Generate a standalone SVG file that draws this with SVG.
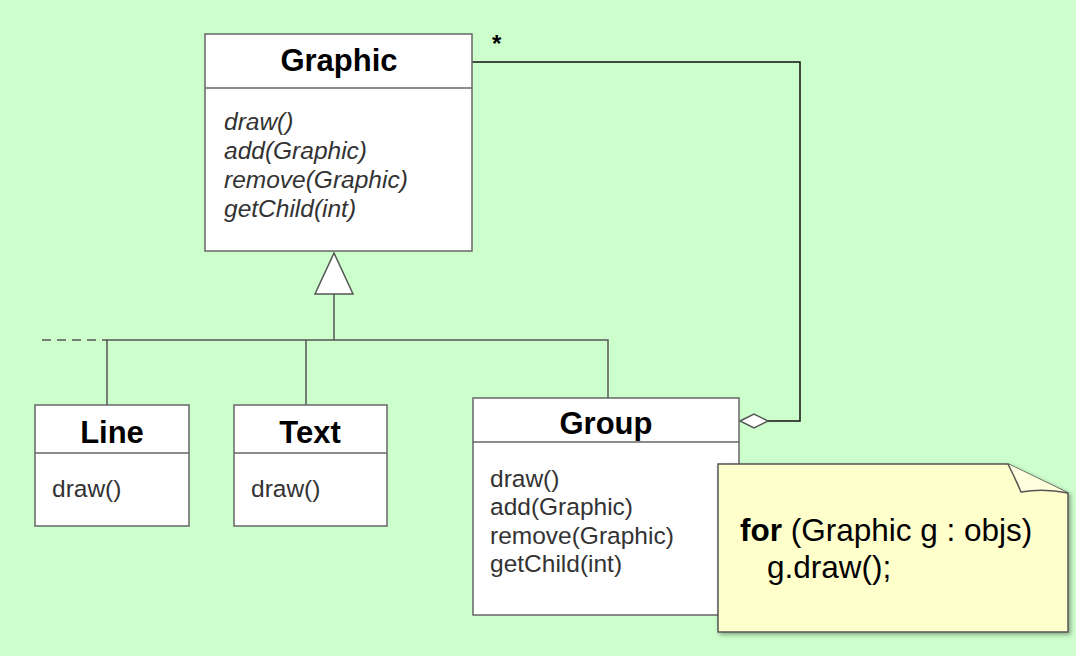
<svg xmlns="http://www.w3.org/2000/svg" width="1076" height="656" viewBox="0 0 1076 656">
<defs>
<style>
.box{fill:#fff;stroke:#666;stroke-width:1.5}
.div{stroke:#666;stroke-width:1.5}
.t{font-family:"Liberation Sans",Arial,sans-serif;fill:#000;font-weight:bold;text-anchor:middle;font-size:31px}
.m{font-family:"Liberation Sans",Arial,sans-serif;fill:#333;font-size:24.5px}
.mi{font-family:"Liberation Sans",Arial,sans-serif;fill:#333;font-size:24.5px;font-style:italic}
.ln{fill:none;stroke:#555;stroke-width:1.5}
.note{font-family:"Liberation Sans",Arial,sans-serif;fill:#000;font-size:31.5px}
</style>
<filter id="sh" x="-10%" y="-10%" width="130%" height="130%">
<feDropShadow dx="2" dy="2" stdDeviation="2" flood-color="#000" flood-opacity="0.35"/>
</filter>
</defs>
<rect width="1076" height="656" fill="#ccffcc"/>
<g id="connectors">
<polyline class="ln" points="107,405 107,340 608,340 608,398"/>
<line class="ln" x1="306" y1="340" x2="306" y2="405"/>
<line class="ln" x1="334" y1="294" x2="334" y2="340"/>
<line class="ln" x1="42" y1="340" x2="107" y2="340" stroke-dasharray="9,6"/>
<polygon points="334,253 315,294 353,294" fill="#fff" stroke="#555" stroke-width="1.5"/>
<polyline points="768,421 800,421 800,62 472,62" fill="none" stroke="#111" stroke-width="1.5"/>
<polygon points="740,421 754,414 768,421 754,428" fill="#fff" stroke="#555" stroke-width="1.5"/>
<text x="492" y="52" font-family="Liberation Sans,Arial,sans-serif" font-size="24" font-weight="bold">*</text>
<line x1="586" y1="479" x2="718" y2="500" stroke="#000" stroke-width="1.5" stroke-dasharray="6,5"/>
</g>
<g id="Graphic">
<rect class="box" x="205" y="34" width="267" height="217"/>
<line class="div" x1="205" y1="88" x2="472" y2="88"/>
<text class="t" x="339" y="71">Graphic</text>
<text class="mi" x="224" y="130">draw()</text>
<text class="mi" x="224" y="159">add(Graphic)</text>
<text class="mi" x="224" y="188">remove(Graphic)</text>
<text class="mi" x="224" y="217">getChild(int)</text>
</g>
<g id="Line">
<rect class="box" x="35" y="405" width="154" height="121"/>
<line class="div" x1="35" y1="453" x2="189" y2="453"/>
<text class="t" x="112" y="443">Line</text>
<text class="m" x="52" y="497">draw()</text>
</g>
<g id="Text">
<rect class="box" x="234" y="405" width="153" height="121"/>
<line class="div" x1="234" y1="453" x2="387" y2="453"/>
<text class="t" x="310" y="443">Text</text>
<text class="m" x="251" y="497">draw()</text>
</g>
<g id="Group">
<rect class="box" x="473" y="398" width="266" height="217"/>
<line class="div" x1="473" y1="442" x2="739" y2="442"/>
<text class="t" x="606" y="434">Group</text>
<text class="m" x="490" y="487">draw()</text>
<text class="m" x="490" y="515">add(Graphic)</text>
<text class="m" x="490" y="544">remove(Graphic)</text>
<text class="m" x="490" y="572">getChild(int)</text>
</g>
<g id="Note">
<path d="M718,464 L1008,464 L1068,493 L1068,632 L718,632 Z" fill="#ffffcc" stroke="#555" stroke-width="1.5" filter="url(#sh)"/>
<path d="M1008,464 Q1016,480 1021,492 Q1044,488 1068,493" fill="#ffffdd" stroke="#555" stroke-width="1.5"/>
<text class="note" x="740" y="541"><tspan font-weight="bold">for</tspan> (Graphic g : objs)</text>
<text class="note" x="767" y="578">g.draw();</text>
</g>
</svg>
